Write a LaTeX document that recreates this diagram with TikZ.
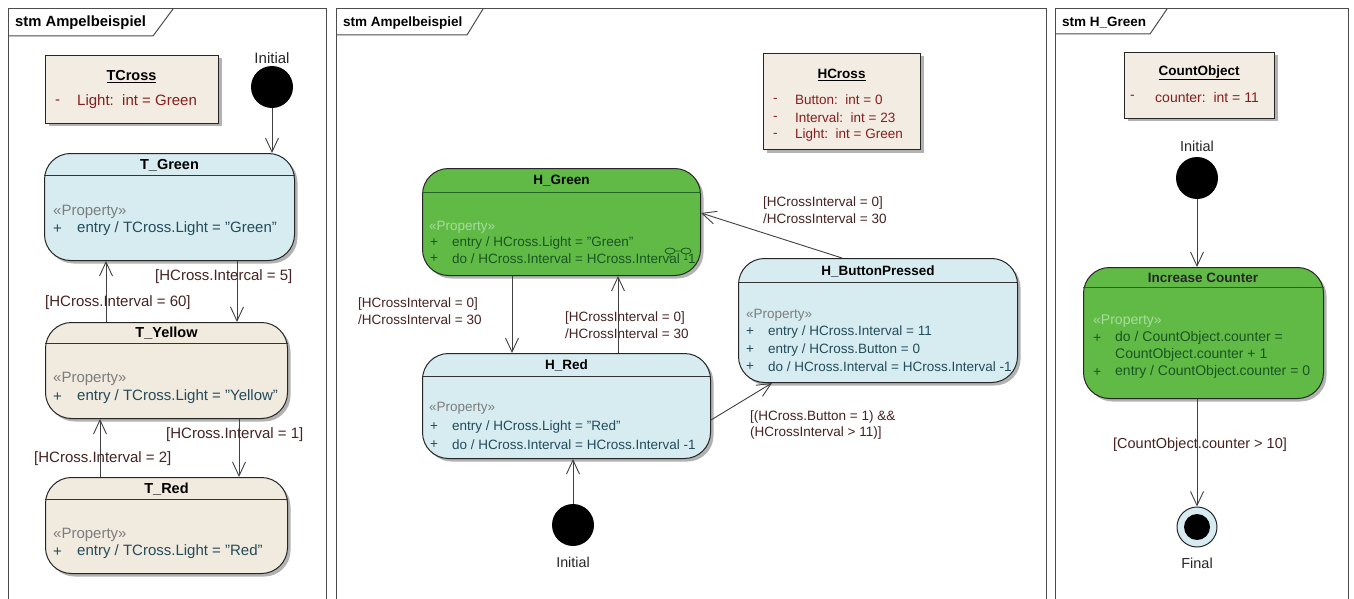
\documentclass[tikz,border=0pt]{standalone}
\usepackage{fontspec}
\setmainfont{Liberation Sans}
\usetikzlibrary{arrows.meta,shadows}
\definecolor{stblue}{RGB}{214,236,241}
\definecolor{stbeige}{RGB}{241,234,223}
\definecolor{stgreen}{RGB}{98,186,70}
\definecolor{clsfill}{RGB}{242,236,226}
\definecolor{txtblue}{RGB}{35,75,90}
\definecolor{txtgreen}{RGB}{25,85,35}
\definecolor{propgray}{RGB}{125,125,125}
\definecolor{propgreen}{RGB}{165,222,155}
\definecolor{attrred}{RGB}{135,30,30}
\definecolor{lblcol}{RGB}{70,35,35}
\definecolor{hdrgreen}{RGB}{35,100,40}
\begin{document}
\begin{tikzpicture}[x=1pt,y=-1pt,
  every node/.style={inner sep=0pt, font=\fontsize{13.5}{16.5}\selectfont},
  frm/.style={draw=black!70, line width=1pt},
  tablbl/.style={anchor=west, font=\bfseries\fontsize{13.5}{16}\selectfont},
  state/.style={draw=black!85, line width=1pt, rounded corners=26pt, anchor=north west,
    drop shadow={shadow xshift=3pt,shadow yshift=-3pt,fill=black,opacity=0.3}},
  cls/.style={draw=black!85, line width=1pt, fill=clsfill, anchor=north west,
    drop shadow={shadow xshift=3pt,shadow yshift=-3pt,fill=black,opacity=0.3}},
  hl/.style={draw=black!80, line width=1pt},
  ttl/.style={font=\bfseries\fontsize{13.5}{16}\selectfont},
  txt/.style={anchor=west, text=txtblue},
  gtxt/.style={anchor=west, text=txtgreen},
  prop/.style={anchor=west, text=propgray},
  gprop/.style={anchor=west, text=propgreen},
  attr/.style={anchor=west, text=attrred},
  lbl/.style={anchor=west, text=lblcol, align=left},
  init/.style={circle, fill=black, minimum size=42pt},
  plain/.style={text=black!85},
  tr/.style={draw=black!75, line width=0.9pt, -{Straight Barb[length=14pt,width=13pt,line width=0.9pt]}}
]
\useasboundingbox (0,0) rectangle (1354,599);
\fill[white] (0,0) rectangle (1354,599);

% ---------------- frames ----------------
\draw[frm] (8,600) -- (8,9) -- (326,9) -- (326,600);
\draw[frm] (8,36) -- (153,36) -- (173,9);
\node[tablbl, font=\bfseries\fontsize{14.8}{17}\selectfont] (F1t) at (15,23) {stm Ampelbeispiel};

\draw[frm] (336,600) -- (336,9) -- (1046,9) -- (1046,600);
\draw[frm] (336,35) -- (467,35) -- (483,9);
\node[tablbl] (F2t) at (343,23) {stm Ampelbeispiel};

\draw[frm] (1055,600) -- (1055,9) -- (1348,9) -- (1348,600);
\draw[frm] (1055,34) -- (1150,34) -- (1167,9);
\node[tablbl] (F3t) at (1062,23) {stm H\_Green};

% ---------------- left panel ----------------
\begin{scope}[every node/.append style={font=\fontsize{15}{18}\selectfont},
  ttl/.style={font=\bfseries\fontsize{14.5}{17}\selectfont}]
\node[cls, minimum width=173pt, minimum height=68pt] (TC) at (45,55) {};
\node[ttl] (TCt) at (131.5,77) {\underline{TCross}};
\node[attr] (TCa0) at (55,102) {-};
\node[attr] (TCa1) at (77,102) {Light:\ \ int = Green};

\node[plain] (I1l) at (272,58) {Initial};
\node[init] (I1) at (272,87) {};

\node[state, fill=stblue, minimum width=250pt, minimum height=107pt] (TG) at (44,153) {};
\draw[hl] ([yshift=-22pt]TG.north west) -- ([yshift=-22pt]TG.north east);
\node[ttl] (TGt) at ([yshift=-12pt]TG.north) {T\_Green};
\node[prop] (TGp) at (53,212) {«Property»};
\node[txt] (TGa0) at (53,229) {+};
\node[txt] (TGa1) at (77,229) {entry / TCross.Light = "Green"};

\node[state, fill=stbeige, minimum width=242pt, minimum height=96pt] (TY) at (45,322) {};
\draw[hl] ([yshift=-21pt]TY.north west) -- ([yshift=-21pt]TY.north east);
\node[ttl] (TYt) at ([yshift=-11pt]TY.north) {T\_Yellow};
\node[prop] (TYp) at (53,379) {«Property»};
\node[txt] (TYa0) at (53,397) {+};
\node[txt] (TYa1) at (77,397) {entry / TCross.Light = "Yellow"};

\node[state, fill=stbeige, minimum width=242pt, minimum height=96pt] (TR) at (45,477) {};
\draw[hl] ([yshift=-22pt]TR.north west) -- ([yshift=-22pt]TR.north east);
\node[ttl] (TRt) at ([yshift=-12pt]TR.north) {T\_Red};
\node[prop] (TRp) at (53,535) {«Property»};
\node[txt] (TRa0) at (53,552) {+};
\node[txt] (TRa1) at (77,552) {entry / TCross.Light = "Red"};

\draw[tr] (I1.south) -- (I1.south |- TG.north);
\draw[tr] (TG.south -| 237,0) -- (TY.north -| 237,0);
\draw[tr] (TY.north -| 106,0) -- (TG.south -| 106,0);
\draw[tr] (TY.south -| 239,0) -- (TR.north -| 239,0);
\draw[tr] (TR.north -| 100,0) -- (TY.south -| 100,0);
\node[lbl] (L1) at (155,277) {[HCross.Intercal = 5]};
\node[lbl] (L2) at (45,303) {[HCross.Interval = 60]};
\node[lbl] (L3) at (166,435) {[HCross.Interval = 1]};
\node[lbl] (L4) at (34,459) {[HCross.Interval = 2]};
\end{scope}

% ---------------- middle panel ----------------
\node[cls, minimum width=157pt, minimum height=96pt] (HC) at (763,53) {};
\node[ttl] (HCt) at (841.5,75) {\underline{HCross}};
\node[attr] (HCa0) at (773,100) {-};
\node[attr] (HCa1) at (795,100) {Button:\ \ int = 0};
\node[attr] (HCb0) at (773,118) {-};
\node[attr] (HCb1) at (795,118) {Interval:\ \ int = 23};
\node[attr] (HCc0) at (773,135) {-};
\node[attr] (HCc1) at (795,135) {Light:\ \ int = Green};

\node[state, fill=stgreen, minimum width=278pt, minimum height=107pt] (HG) at (422,168) {};
\draw[hl, draw=hdrgreen] ([yshift=-24pt]HG.north west) -- ([yshift=-24pt]HG.north east);
\node[ttl] (HGt) at ([yshift=-13pt]HG.north) {H\_Green};
\node[gprop] (HGp) at (429,227) {«Property»};
\node[gtxt] (HGa0) at (430,243) {+};
\node[gtxt] (HGa1) at (452,243) {entry / HCross.Light = "Green"};
\node[gtxt] (HGb0) at (430,259) {+};
\node[gtxt] (HGb1) at (452,259) {do / HCross.Interval = HCross.Interval -1};
\draw[txtgreen, line width=0.8pt] (670,251) ellipse (5pt and 3pt) (686,251) ellipse (5pt and 3pt)
  (675,251) -- (681,251) (670,254) -- (670,259) (686,254) -- (686,259);

\node[state, fill=stblue, minimum width=288pt, minimum height=105pt] (HR) at (422,353) {};
\draw[hl] ([yshift=-23pt]HR.north west) -- ([yshift=-23pt]HR.north east);
\node[ttl] (HRt) at ([yshift=-12pt]HR.north) {H\_Red};
\node[prop] (HRp) at (429,408) {«Property»};
\node[txt] (HRa0) at (430,427) {+};
\node[txt] (HRa1) at (452,427) {entry / HCross.Light = "Red"};
\node[txt] (HRb0) at (430,445) {+};
\node[txt] (HRb1) at (452,445) {do / HCross.Interval = HCross.Interval -1};

\node[state, fill=stblue, minimum width=279pt, minimum height=124pt] (BP) at (738,258) {};
\draw[hl] ([yshift=-24pt]BP.north west) -- ([yshift=-24pt]BP.north east);
\node[ttl] (BPt) at ([yshift=-13pt]BP.north) {H\_ButtonPressed};
\node[prop] (BPp) at (746,315) {«Property»};
\node[txt] (BPa0) at (746,332) {+};
\node[txt] (BPa1) at (768,332) {entry / HCross.Interval = 11};
\node[txt] (BPb0) at (746,350) {+};
\node[txt] (BPb1) at (768,350) {entry / HCross.Button = 0};
\node[txt] (BPc0) at (746,367) {+};
\node[txt] (BPc1) at (768,367) {do / HCross.Interval = HCross.Interval -1};

\node[init] (I2) at (573,525) {};
\node[plain, font=\fontsize{14.3}{17}\selectfont] (I2l) at (573,562) {Initial};

\draw[tr] (I2.north) -- (I2.north |- HR.south);
\draw[tr] (HG.south -| 512,0) -- (HR.north -| 512,0);
\draw[tr] (HR.north -| 618,0) -- (HG.south -| 618,0);
\draw[tr] (BP.north -| 842,0) -- (HG.east |- 0,213);
\draw[tr] (HR.east |- 0,420) -- (BP.south -| 772,0);
\node[lbl] (M1) at (358,311) {[HCrossInterval = 0]\\/HCrossInterval = 30};
\node[lbl] (M2) at (565,325) {[HCrossInterval = 0]\\/HCrossInterval = 30};
\node[lbl] (M3) at (763,210) {[HCrossInterval = 0]\\/HCrossInterval = 30};
\node[lbl] (M4) at (750,425) {[(HCross.Button = 1) \&\&\\(HCrossInterval > 11)]};

% ---------------- right panel ----------------
\begin{scope}[every node/.append style={font=\fontsize{14}{17}\selectfont}]
\node[cls, minimum width=150pt, minimum height=66pt] (CO) at (1124,52) {};
\node[ttl] (COt) at (1199,73) {\underline{CountObject}};
\node[attr] (COa0) at (1130,97) {-};
\node[attr] (COa1) at (1155,97) {counter:\ \ int = 11};

\node[plain, font=\fontsize{14.5}{17}\selectfont] (I3l) at (1197,146) {Initial};
\node[init] (I3) at (1197,178) {};

\node[state, fill=stgreen, minimum width=240pt, minimum height=131pt] (IC) at (1083,267) {};
\draw[hl, draw=hdrgreen] ([yshift=-20pt]IC.north west) -- ([yshift=-20pt]IC.north east);
\node[ttl, text=black!85] (ICt) at (1203,278) {Increase Counter};
\node[gprop] (ICp) at (1093,321) {«Property»};
\node[gtxt] (ICa0) at (1093,338) {+};
\node[gtxt] (ICa1) at (1115,338) {do / CountObject.counter =};
\node[gtxt] (ICa2) at (1115,355) {CountObject.counter + 1};
\node[gtxt] (ICb0) at (1093,372) {+};
\node[gtxt] (ICb1) at (1115,372) {entry / CountObject.counter = 0};

\node[circle, draw=black!85, line width=1pt, fill=stblue, minimum size=40pt] (FN) at (1197,527) {};
\node[circle, fill=black, minimum size=26pt] (FNi) at (1197,527) {};
\node[plain, font=\fontsize{14.5}{17}\selectfont] (FNl) at (1197,563) {Final};

\draw[tr] (I3.south) -- (I3.south |- IC.north);
\draw[tr] (IC.south -| I3) -- (FN.north);
\node[lbl, anchor=center, font=\fontsize{14.5}{17}\selectfont] (R1) at (1200,445) {[CountObject.counter > 10]};
\end{scope}
\end{tikzpicture}
\end{document}
